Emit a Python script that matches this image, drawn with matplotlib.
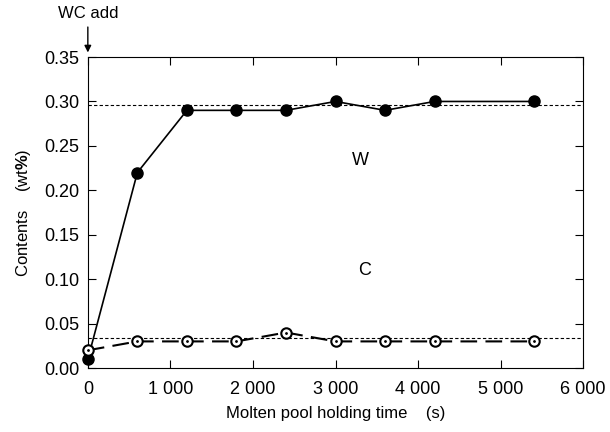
import matplotlib.pyplot as plt
from matplotlib.ticker import FuncFormatter

plt.rcParams['font.family'] = ['Liberation Sans', 'DejaVu Sans']
plt.rcParams['mathtext.fontset'] = 'custom'
plt.rcParams['mathtext.bf'] = 'Liberation Sans:bold'

t = [0, 600, 1200, 1800, 2400, 3000, 3600, 4200, 5400]
W = [0.01, 0.22, 0.29, 0.29, 0.29, 0.30, 0.29, 0.30, 0.30]
C = [0.02, 0.03, 0.03, 0.03, 0.04, 0.03, 0.03, 0.03, 0.03]
W_ref = 0.296
C_ref = 0.034

fig = plt.figure(figsize=(6.1, 4.32), dpi=100)
ax = fig.add_axes([0.144, 0.148, 0.812, 0.72])

ax.axhline(W_ref, color='black', ls=(0, (3, 2)), lw=0.8)
ax.axhline(C_ref, color='black', ls=(0, (3, 2)), lw=0.8)
ax.plot(t, W, 'k-', marker='o', ms=8, lw=1.2, clip_on=False, zorder=3)
ax.plot(t, C, color='black', ls=(0, (8, 4)), lw=1.5, marker='o', ms=7.5,
        mfc='white', mew=1.5, clip_on=False, zorder=3)
ax.plot(t, C, 'k.', ms=2, ls='none', clip_on=False, zorder=4)

ax.text(3300, 0.234, 'W', fontsize=13, ha='center', va='center')
ax.text(3350, 0.110, 'C', fontsize=13, ha='center', va='center')
ax.annotate('WC add', xy=(0, 0.352), xytext=(0, 0.39), fontsize=12,
            ha='center', va='bottom', annotation_clip=False,
            arrowprops=dict(arrowstyle='-|>', color='black', lw=1, mutation_scale=10))

ax.set_xlim(0, 6000)
ax.set_ylim(0, 0.35)
ax.set_xticks(range(0, 6001, 1000))
ax.set_yticks([0, 0.05, 0.10, 0.15, 0.20, 0.25, 0.30, 0.35])
ax.xaxis.set_major_formatter(FuncFormatter(lambda v, p: f'{int(v):,}'.replace(',', ' ')))
ax.yaxis.set_major_formatter(FuncFormatter(lambda v, p: f'{v:.2f}'))
ax.tick_params(direction='in', top=True, right=True, labelsize=13, length=6, pad=6)
ax.tick_params(axis='x', pad=9)
ax.set_xlabel('Molten pool holding time    (s)', fontsize=12, labelpad=6)
ax.set_ylabel(r'Contents    (wt$\mathbf{\%}$)', fontsize=12, labelpad=8)

fig.savefig('out.png', dpi=100)
